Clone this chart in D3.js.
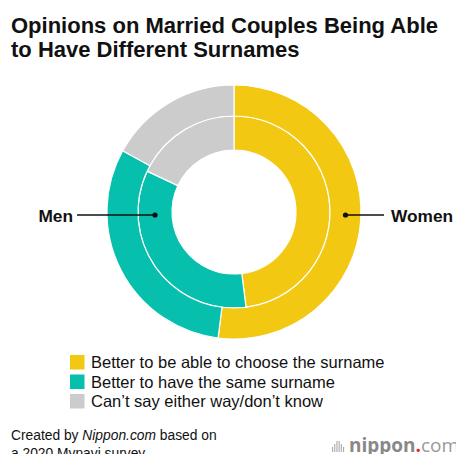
<!DOCTYPE html>
<html lang="en">
<head>
  <meta charset="utf-8">
  <title>Opinions on Married Couples Being Able to Have Different Surnames</title>
  <script src="https://d3js.org/d3.v7.min.js"></script>
  <style>
    body {
      margin: 0;
      background: #ffffff;
      font-family: "Liberation Sans", Arial, Helvetica, sans-serif;
    }
    svg { display: block; }
    .title { font-weight: 700; font-size: 22px; fill: #111; }
    .ring-label { font-weight: 700; font-size: 17.3px; fill: #111; }
    .legend-text { font-size: 16.5px; fill: #111; }
    .credit { font-size: 13.8px; fill: #111; }
  </style>
</head>
<body>
<script>
// answer categories and colours
var categories = [
  "Better to be able to choose the surname",
  "Better to have the same surname",
  "Can\u2019t say either way/don\u2019t know"
];
var colors = ["#f2c812", "#06bfad", "#cccccc"];

// shares in percent
var menValues = [48, 34, 18];
var womenValues = [52, 31, 17];

var width = 456, height = 454;
var cx = 234, cy = 212;

var svg = d3.select("body").append("svg")
    .attr("width", width)
    .attr("height", height);

// title
var title = svg.append("text").attr("class", "title");
title.append("tspan").attr("x", 11).attr("y", 33).text("Opinions on Married Couples Being Able");
title.append("tspan").attr("x", 11).attr("y", 57).text("to Have Different Surnames");

var pie = d3.pie().sort(null).value(d => d);

var rings = [
  { name: "Men", values: menValues, inner: 62, outer: 96 },
  { name: "Women", values: womenValues, inner: 96, outer: 127 }
];

var chart = svg.append("g").attr("transform", `translate(${cx},${cy})`);

rings.forEach(function(ring) {
  var arc = d3.arc().innerRadius(ring.inner).outerRadius(ring.outer);
  chart.append("g")
    .selectAll("path")
    .data(pie(ring.values))
    .enter().append("path")
      .attr("d", arc)
      .attr("fill", (d, i) => colors[i])
      .attr("stroke", "#ffffff")
      .attr("stroke-width", 1.2);
});

// callout labels
var menR = (rings[0].inner + rings[0].outer) / 2;
var womenR = (rings[1].inner + rings[1].outer) / 2;
var labelY = 215 - cy;

chart.append("line")
    .attr("x1", -menR).attr("x2", 77 - cx)
    .attr("y1", labelY).attr("y2", labelY)
    .attr("stroke", "#111").attr("stroke-width", 1.3);
chart.append("circle").attr("cx", -menR).attr("cy", labelY).attr("r", 2.6).attr("fill", "#111");
chart.append("text").attr("class", "ring-label")
    .attr("x", 73 - cx).attr("y", labelY + 6.5)
    .attr("text-anchor", "end")
    .text(rings[0].name);

chart.append("line")
    .attr("x1", womenR).attr("x2", 384 - cx)
    .attr("y1", labelY).attr("y2", labelY)
    .attr("stroke", "#111").attr("stroke-width", 1.3);
chart.append("circle").attr("cx", womenR).attr("cy", labelY).attr("r", 2.6).attr("fill", "#111");
chart.append("text").attr("class", "ring-label")
    .attr("x", 391 - cx).attr("y", labelY + 6.5)
    .text(rings[1].name);

// legend
var legend = svg.append("g").attr("transform", "translate(70,355)");
var item = legend.selectAll("g")
    .data(categories)
    .enter().append("g")
    .attr("transform", (d, i) => `translate(0,${i * 19.5})`);
item.append("rect")
    .attr("width", 14.5).attr("height", 14.5)
    .attr("fill", (d, i) => colors[i]);
item.append("text")
    .attr("class", "legend-text")
    .attr("x", 21).attr("y", 13)
    .text(d => d);

// source
var credit = svg.append("text").attr("class", "credit");
var l1 = credit.append("tspan").attr("x", 11).attr("y", 440);
l1.append("tspan").text("Created by ");
l1.append("tspan").style("font-style", "italic").text("Nippon.com");
l1.append("tspan").text(" based on");
credit.append("tspan").attr("x", 11).attr("y", 458).text("a 2020 Mynavi survey.");

// logo
var logo = svg.append("g").attr("transform", "translate(332,452)");
d3.range(6).forEach(function(i) {
  var h = [5, 8, 11, 11, 8, 5][i];
  logo.append("rect")
      .attr("x", i * 2.2).attr("y", -h)
      .attr("width", 1.1).attr("height", h)
      .attr("fill", "#aaaaaa");
});
var logoText = logo.append("text")
    .attr("x", 17).attr("y", 0)
    .style("font-family", "'Open Sans', sans-serif")
    .style("font-size", "19px");
logoText.append("tspan").attr("fill", "#888").style("font-weight", 700).text("nippon");
logoText.append("tspan").attr("fill", "#e0242b").style("font-weight", 700).text(".");
logoText.append("tspan").attr("fill", "#999").style("font-weight", 400).text("com");
</script>
</body>
</html>
